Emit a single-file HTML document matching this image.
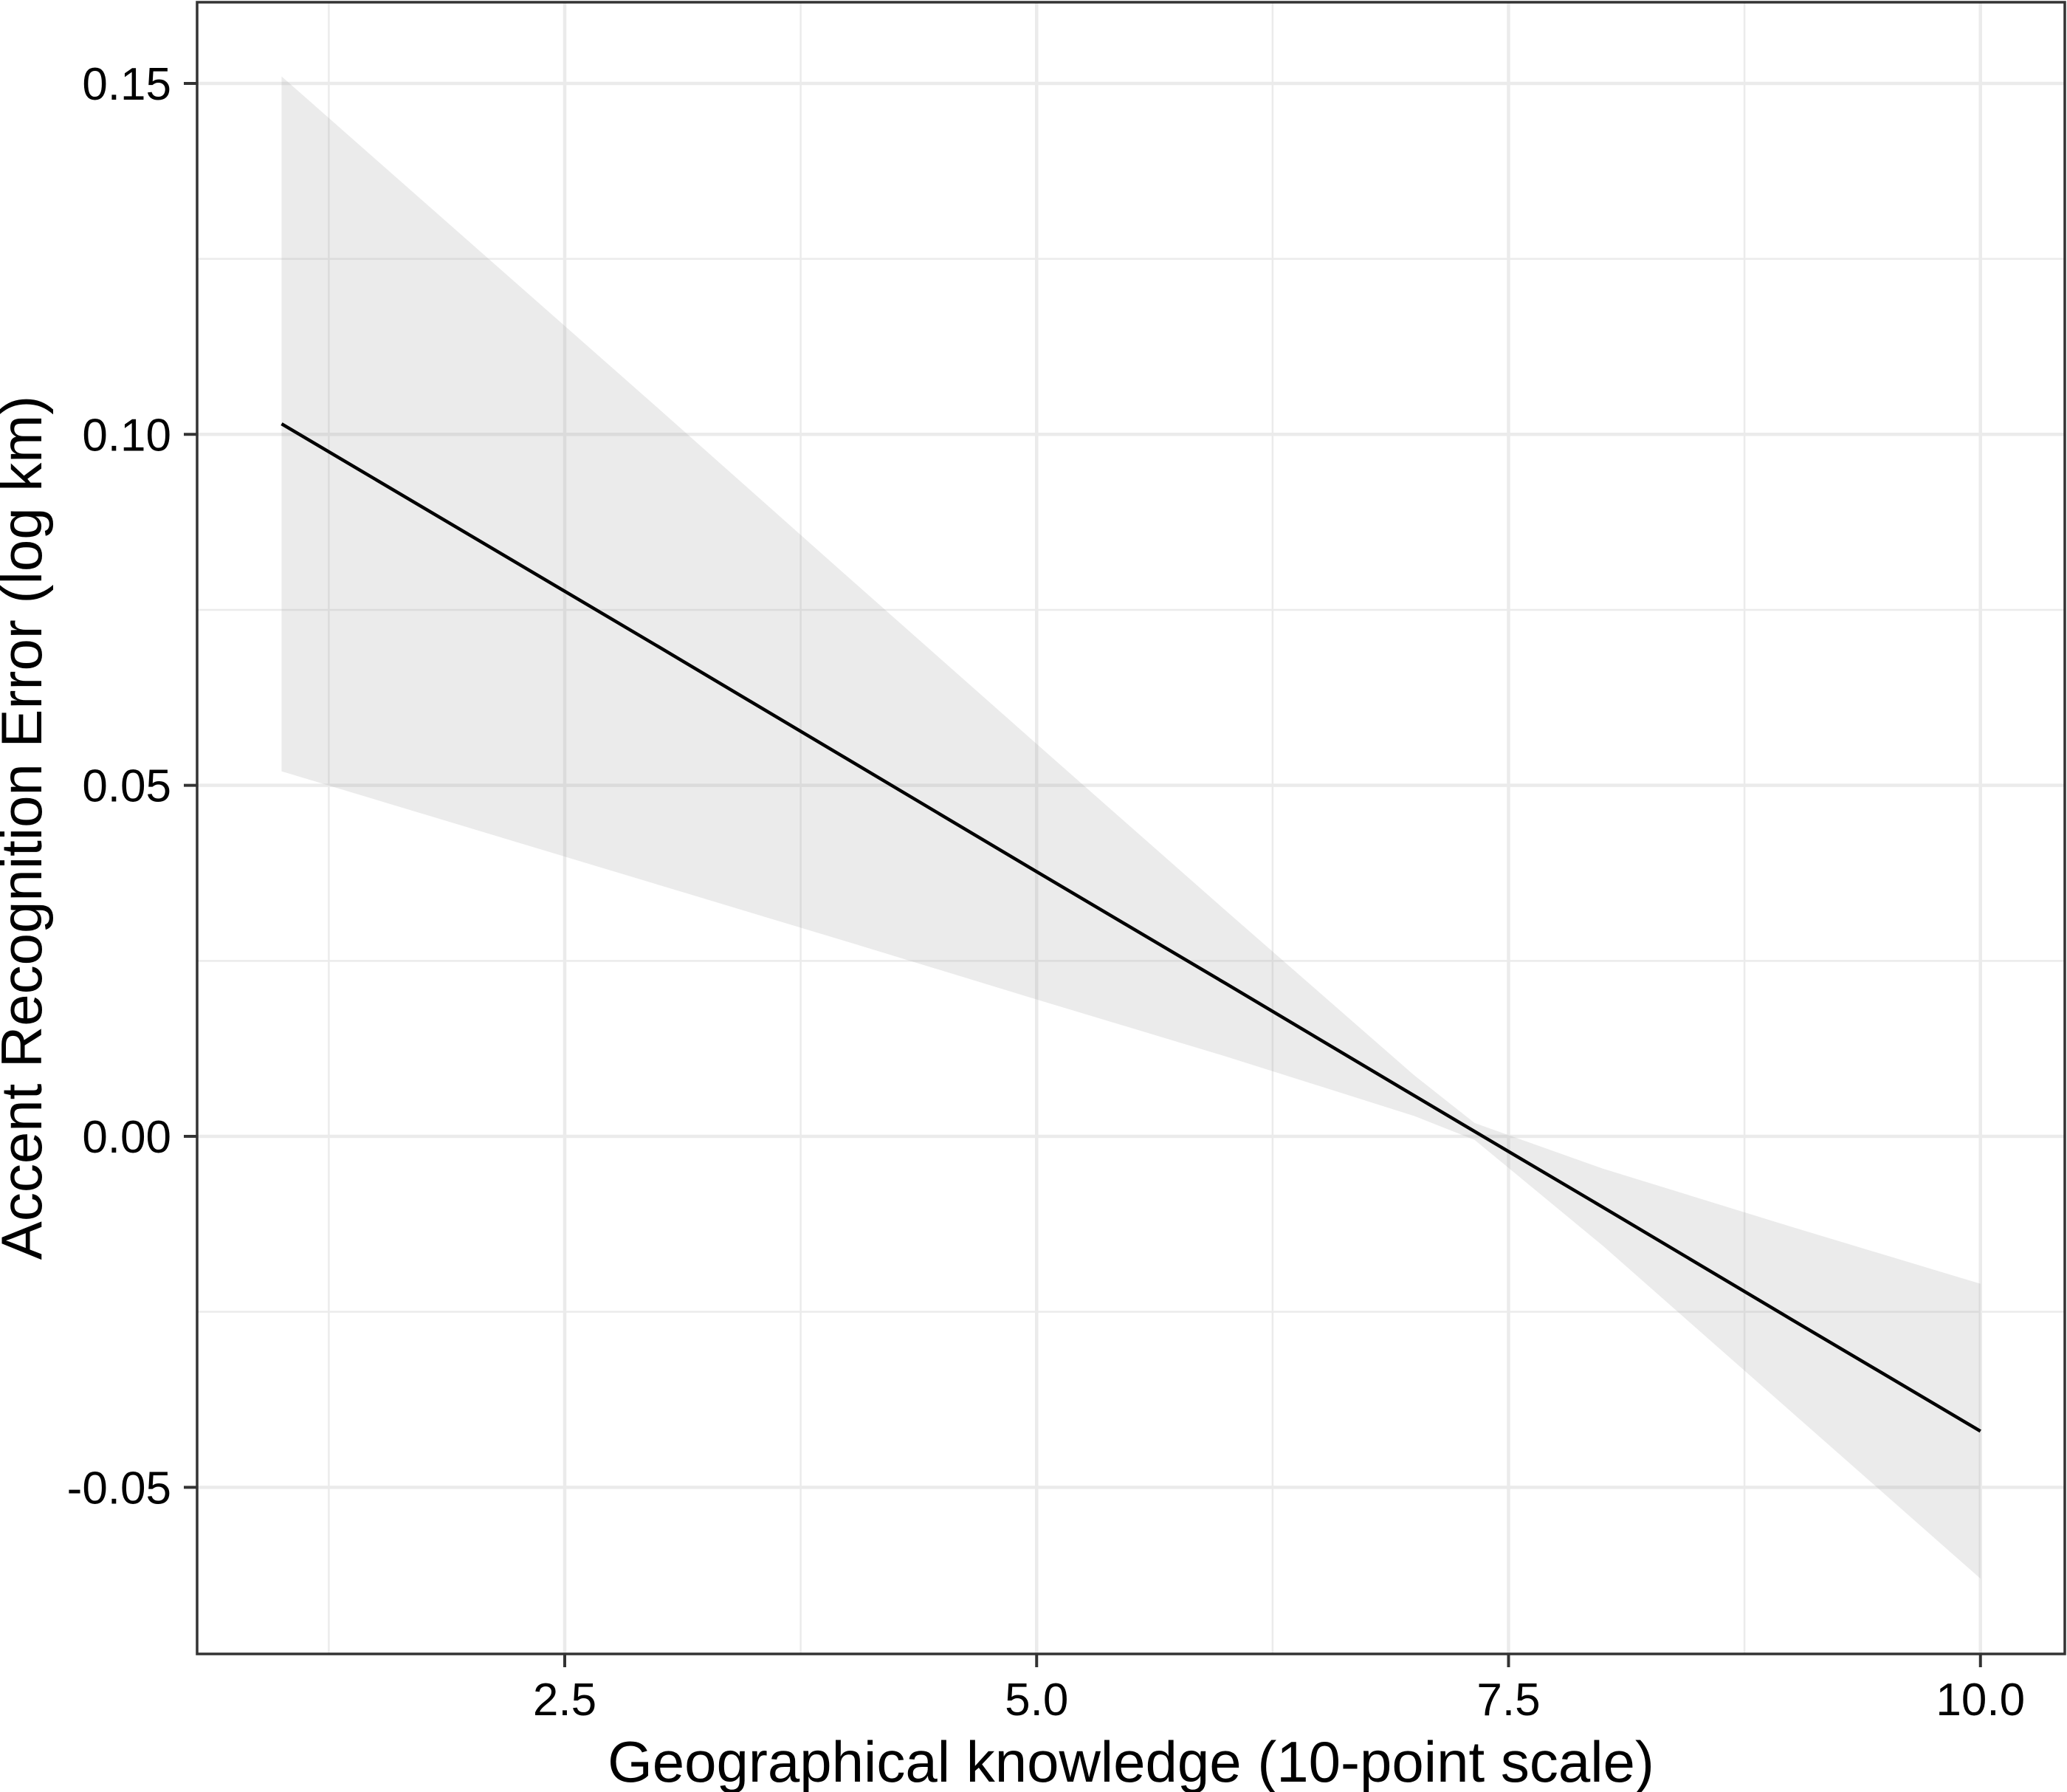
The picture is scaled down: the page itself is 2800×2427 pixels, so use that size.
<!DOCTYPE html>
<html><head><meta charset="utf-8">
<style>
html,body{margin:0;padding:0;background:#fff;}
svg{display:block;font-family:"Liberation Sans",Arial,sans-serif;}
</style></head>
<body>
<svg id="chart" width="2800" height="2427" viewBox="0 0 2800 2427" xmlns="http://www.w3.org/2000/svg">
<rect x="0" y="0" width="2800" height="2427" fill="#fff"/>
<g id="grid"></g>
<g id="marks"></g>
<rect x="267" y="3" width="2530" height="2237" fill="none" stroke="#333" stroke-width="3.5"/>
<g id="axes"></g>
<text x="1532" y="2413" font-size="78" text-anchor="middle" fill="#000">Geographical knowledge (10-point scale)</text>
<text transform="translate(56,1121) rotate(-90)" font-size="78" text-anchor="middle" fill="#000">Accent Recognition Error (log km)</text>
</svg>
<script>
const xValues = [1, 2, 3, 4, 5, 6, 7, 7.32, 8, 9, 10];
const fitValues = [0.1015, 0.0856, 0.0697, 0.0537, 0.0377, 0.0218, 0.0058, 0.0007, -0.0101, -0.0261, -0.0420];
const upperValues = [0.1510, 0.1273, 0.1036, 0.0797, 0.0559, 0.0322, 0.0087, 0.0019, -0.0046, -0.0129, -0.0210];
const lowerValues = [0.0520, 0.0439, 0.0358, 0.0277, 0.0195, 0.0114, 0.0029, -0.0005, -0.0156, -0.0393, -0.0630];
const xTicks = [2.5, 5.0, 7.5, 10.0];
const xTickLabels = ["2.5", "5.0", "7.5", "10.0"];
const xMinor = [1.25, 3.75, 6.25, 8.75];
const yTicks = [-0.05, 0.00, 0.05, 0.10, 0.15];
const yTickLabels = ["-0.05", "0.00", "0.05", "0.10", "0.15"];
const yMinor = [-0.025, 0.025, 0.075, 0.125];

const NS = "http://www.w3.org/2000/svg";
const PL = 267, PR = 2797, PT = 3, PB = 2240;
function sx(v){ return 765 + (v - 2.5) * 255.7; }
function sy(v){ return 1539 - v * 9507; }
function mk(tag, attrs, parent){
  const e = document.createElementNS(NS, tag);
  for (const k in attrs) e.setAttribute(k, attrs[k]);
  parent.appendChild(e);
  return e;
}
const grid = document.getElementById('grid');
const marks = document.getElementById('marks');
const axes = document.getElementById('axes');

xMinor.forEach(v => {
  const l = mk('line', {x1: sx(v), x2: sx(v), y1: PT, y2: PB, stroke: '#ebebeb', 'stroke-width': 2.5}, grid);
  
  
});
yMinor.forEach(v => {
  const l = mk('line', {x1: PL, x2: PR, y1: sy(v), y2: sy(v), stroke: '#ebebeb', 'stroke-width': 2.5}, grid);
  
  
});
xTicks.forEach(v => {
  const l = mk('line', {x1: sx(v), x2: sx(v), y1: PT, y2: PB, stroke: '#ebebeb', 'stroke-width': 4.5}, grid);
  
  
});
yTicks.forEach(v => {
  const l = mk('line', {x1: PL, x2: PR, y1: sy(v), y2: sy(v), stroke: '#ebebeb', 'stroke-width': 4.5}, grid);
  
  
});

let d = '';
xValues.forEach((x, i) => { d += (i ? 'L' : 'M') + sx(x) + ',' + sy(upperValues[i]); });
for (let i = xValues.length - 1; i >= 0; i--) d += 'L' + sx(xValues[i]) + ',' + sy(lowerValues[i]);
d += 'Z';
const band = mk('path', {d: d, fill: '#999999', 'fill-opacity': 0.2}, marks);



const pts = xValues.map((x, i) => sx(x) + ',' + sy(fitValues[i])).join(' ');
const line = mk('polyline', {points: pts, fill: 'none', stroke: '#000', 'stroke-width': 4.5}, marks);



xTicks.forEach((v, i) => {
  const t = mk('line', {x1: sx(v), x2: sx(v), y1: PB, y2: PB + 18, stroke: '#333', 'stroke-width': 4}, axes);
  
  
  const lb = mk('text', {x: sx(v), y: 2323, 'font-size': 62, 'text-anchor': 'middle', fill: '#000'}, axes);
  lb.textContent = xTickLabels[i];
  
  
});
yTicks.forEach((v, i) => {
  const t = mk('line', {x1: PL - 18, x2: PL, y1: sy(v), y2: sy(v), stroke: '#333', 'stroke-width': 4}, axes);
  
  
  const lb = mk('text', {x: 232, y: sy(v) + 22, 'font-size': 62, 'text-anchor': 'end', fill: '#000'}, axes);
  lb.textContent = yTickLabels[i];
  
  
});
</script>
</body></html>
